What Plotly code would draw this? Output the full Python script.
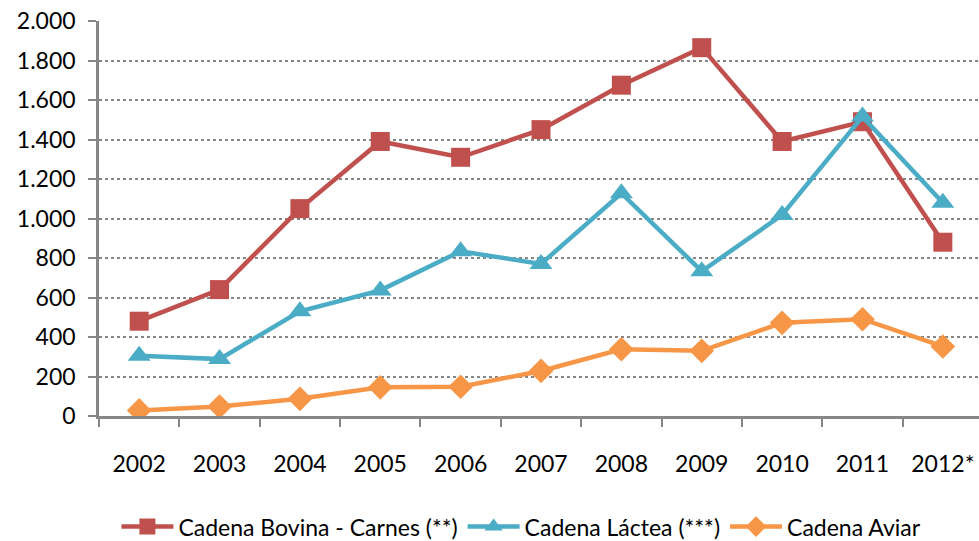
import plotly.graph_objects as go

years = ["2002", "2003", "2004", "2005", "2006", "2007", "2008", "2009", "2010", "2011", "2012*"]
bovina = [480, 640, 1050, 1390, 1310, 1450, 1675, 1865, 1390, 1490, 880]
lactea = [305, 288, 530, 636, 834, 770, 1128, 733, 1018, 1516, 1080]
aviar = [28, 48, 87, 145, 148, 228, 338, 330, 472, 490, 352]

series = [
    ("Cadena Bovina - Carnes (**)", bovina, "#C0504D", "square", 19),
    ("Cadena Láctea (***)", lactea, "#4BACC6", "triangle-up", 20),
    ("Cadena Aviar", aviar, "#F79646", "diamond", 19),
]

fig = go.Figure()
for name, vals, col, sym, sz in series:
    fig.add_trace(go.Scatter(
        x=years, y=vals, name=name, mode="lines+markers",
        line=dict(color=col, width=4.5),
        marker=dict(symbol=sym, size=sz, color=col),
    ))

fig.update_layout(
    width=979, height=541,
    margin=dict(l=99, r=0, t=21, b=125, autoexpand=False),
    plot_bgcolor="white", paper_bgcolor="white",
    font=dict(family="Lato", size=23, color="black"),
    separators=",.",
    showlegend=True,
    legend=dict(orientation="h", x=0.48, xanchor="center", y=-0.28, yanchor="middle",
                font=dict(size=23), itemwidth=52),
)
fig.update_xaxes(
    type="category", range=[-0.5, 10.45], automargin=False,
    showline=True, linecolor="#868686", linewidth=2.5,
    ticks="outside", tickson="boundaries", ticklen=8, tickcolor="#868686", tickwidth=2,
    ticklabelstandoff=26, showgrid=False,
)
fig.update_yaxes(
    range=[0, 2000], dtick=200, tickformat=",d", automargin=False,
    showline=True, linecolor="#868686", linewidth=2.5,
    ticks="outside", ticklen=8, tickcolor="#868686", tickwidth=2,
    ticklabelstandoff=8,
    showgrid=True, gridcolor="#868686", griddash="dot", gridwidth=1.5,
    zeroline=False,
)

# page body has a default 8px margin; drop it so the figure sits at 0,0
fig.write_html("out.html", config={"displayModeBar": False},
               post_script="document.body.style.margin='0';document.body.style.overflow='hidden';")
